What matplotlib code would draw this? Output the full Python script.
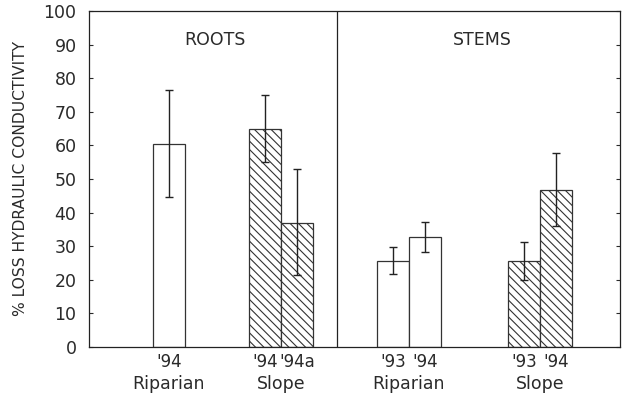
import numpy as np
import matplotlib.pyplot as plt

# percent loss of hydraulic conductivity, roots and stems
root_pos = [2.5, 5.5, 6.5]
root_vals = [60.5, 65.0, 37.0]
root_lo = [44.5, 55.0, 21.5]
root_hi = [76.5, 75.0, 53.0]
root_hatched = [False, True, True]

stem_pos = [9.5, 10.5, 13.6, 14.6]
stem_vals = [25.7, 32.7, 25.7, 46.7]
stem_lo = [21.7, 28.2, 20.0, 36.0]
stem_hi = [29.8, 37.3, 31.2, 57.6]
stem_hatched = [False, False, True, True]

year_labels = ["'94", "'94", "'94a", "'93", "'94", "'93", "'94"]
group_names = ["Riparian", "Slope", "Riparian", "Slope"]
group_pos = [2.5, 6.0, 10.0, 14.1]
panel_names = ["ROOTS", "STEMS"]
yticks = list(range(0, 101, 10))

plt.rcParams['font.family'] = ['DejaVu Sans']
plt.rcParams['hatch.linewidth'] = 0.8

ink = '#2a2a2a'

fig = plt.figure(figsize=(6.23, 3.99), dpi=100)
ax = fig.add_axes([89 / 623, 52 / 399, 531 / 623, 336 / 399])

pos = root_pos + stem_pos
vals = root_vals + stem_vals
lo = root_lo + stem_lo
hi = root_hi + stem_hi
hatched = root_hatched + stem_hatched

for x, v, h in zip(pos, vals, hatched):
    ax.bar(x, v, width=1.0, color='white', edgecolor='#333333', linewidth=0.9,
           hatch='\\\\\\\\' if h else None, zorder=2)

vals = np.array(vals)
yerr = np.array([vals - np.array(lo), np.array(hi) - vals])
ax.errorbar(pos, vals, yerr=yerr, fmt='none', ecolor='#222222', elinewidth=1.0,
            capsize=3, capthick=1.0, zorder=3)

ax.axvline(7.75, color='#222222', linewidth=0.9, zorder=1)

ax.set_xlim(0, 16.6)
ax.set_ylim(0, 100)
ax.set_yticks(yticks)
ax.tick_params(axis='y', direction='in', length=3, labelsize=12.5, pad=9,
               right=True, colors=ink)
ax.set_xticks([])
for s in ax.spines.values():
    s.set_linewidth(0.9)
    s.set_color('#222222')

ax.set_ylabel('% LOSS HYDRAULIC CONDUCTIVITY', fontsize=11.2, labelpad=11,
              color=ink)

for x, lab in zip(pos, year_labels):
    ax.text(x, -4.6, lab, ha='center', va='center', fontsize=12, color=ink)
for x, lab in zip(group_pos, group_names):
    ax.text(x, -11, lab, ha='center', va='center', fontsize=12.5, color=ink)

ax.text(3.95, 91.5, panel_names[0], ha='center', va='center', fontsize=12.5,
        color=ink)
ax.text(12.3, 91.5, panel_names[1], ha='center', va='center', fontsize=12.5,
        color=ink)

fig.savefig('out.png', dpi=100)
